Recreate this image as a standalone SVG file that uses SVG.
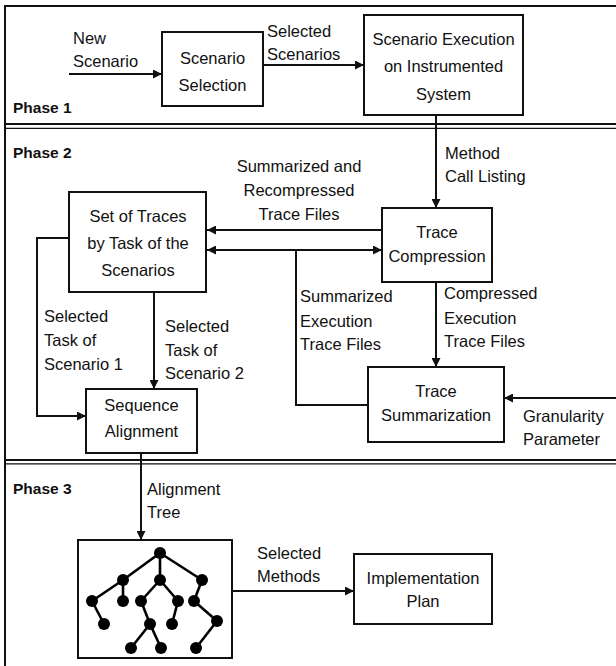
<svg xmlns="http://www.w3.org/2000/svg" width="616" height="666" viewBox="0 0 616 666">
<defs>
<style>
.t{font-family:"Liberation Sans",Arial,sans-serif;font-size:16.5px;fill:#111}
.c{text-anchor:middle}
.ph{font-family:"Liberation Sans",Arial,sans-serif;font-size:15.5px;font-weight:bold;fill:#111}
.box{fill:#fff;stroke:#111;stroke-width:2}
.ln{fill:none;stroke:#111;stroke-width:2}
.frame{fill:none;stroke:#111}
.tree line{stroke:#000;stroke-width:2.6}
.tree circle{fill:#000}
</style>
<marker id="ah" viewBox="0 0 10 10" refX="10" refY="5" markerWidth="10" markerHeight="9" markerUnits="userSpaceOnUse" orient="auto-start-reverse">
<path d="M0,0 L10,5 L0,10 z" fill="#111"/>
</marker>
</defs>
<rect width="616" height="666" fill="#fff"/>
<g id="frame">
<line class="frame" x1="5" y1="6" x2="616" y2="6" stroke-width="2"/>
<line class="frame" x1="5" y1="5" x2="5" y2="666" stroke-width="2"/>
<line class="frame" x1="5" y1="124" x2="616" y2="124" stroke-width="2.2"/>
<line class="frame" x1="5" y1="128.3" x2="616" y2="128.3" stroke-width="1.3"/>
<line class="frame" x1="5" y1="460" x2="616" y2="460" stroke-width="2.2"/>
<line class="frame" x1="5" y1="463.8" x2="616" y2="463.8" stroke-width="1.3"/>
<text class="ph" x="13" y="113">Phase 1</text>
<text class="ph" x="13" y="158">Phase 2</text>
<text class="ph" x="13" y="494">Phase 3</text>
</g>
<g id="connectors">
<line class="ln" x1="69" y1="74" x2="162" y2="74" marker-end="url(#ah)"/>
<line class="ln" x1="263" y1="65" x2="364" y2="65" marker-end="url(#ah)"/>
<line class="ln" x1="436" y1="115" x2="436" y2="208" marker-end="url(#ah)"/>
<line class="ln" x1="382" y1="230" x2="207" y2="230" marker-end="url(#ah)"/>
<line class="ln" x1="207" y1="250" x2="382" y2="250" marker-start="url(#ah)" marker-end="url(#ah)"/>
<polyline class="ln" points="296,250 296,405 368,405"/>
<line class="ln" x1="436" y1="282" x2="436" y2="367" marker-end="url(#ah)"/>
<line class="ln" x1="616" y1="398" x2="504" y2="398" marker-end="url(#ah)"/>
<polyline class="ln" points="69,238 37,238 37,416 86,416" marker-end="url(#ah)"/>
<line class="ln" x1="154" y1="292" x2="154" y2="389" marker-end="url(#ah)"/>
<line class="ln" x1="141" y1="453" x2="141" y2="540" marker-end="url(#ah)"/>
<line class="ln" x1="232" y1="591" x2="354" y2="591" marker-end="url(#ah)"/>
<text class="t" x="73" y="44">New</text>
<text class="t" x="73" y="67">Scenario</text>
<text class="t" x="267" y="37">Selected</text>
<text class="t" x="267" y="60">Scenarios</text>
<text class="t" x="445" y="159">Method</text>
<text class="t" x="445" y="182">Call Listing</text>
<text class="t c" x="299" y="172">Summarized and</text>
<text class="t c" x="299" y="196">Recompressed</text>
<text class="t c" x="299" y="220">Trace Files</text>
<text class="t" x="300" y="302">Summarized</text>
<text class="t" x="300" y="327">Execution</text>
<text class="t" x="300" y="350">Trace Files</text>
<text class="t" x="444" y="299">Compressed</text>
<text class="t" x="444" y="324">Execution</text>
<text class="t" x="444" y="347">Trace Files</text>
<text class="t" x="523" y="422">Granularity</text>
<text class="t" x="523" y="445">Parameter</text>
<text class="t" x="44" y="322">Selected</text>
<text class="t" x="44" y="346">Task of</text>
<text class="t" x="44" y="370">Scenario 1</text>
<text class="t" x="165" y="332">Selected</text>
<text class="t" x="165" y="356">Task of</text>
<text class="t" x="165" y="379">Scenario 2</text>
<text class="t" x="147" y="495">Alignment</text>
<text class="t" x="147" y="518">Tree</text>
<text class="t" x="257" y="559">Selected</text>
<text class="t" x="257" y="582">Methods</text>
</g>
<g id="scenario-selection">
<rect class="box" x="162" y="32" width="101" height="74"/>
<text class="t c" x="212.5" y="64">Scenario</text>
<text class="t c" x="212.5" y="91">Selection</text>
</g>
<g id="scenario-execution">
<rect class="box" x="364" y="15" width="159" height="100"/>
<text class="t c" x="443.5" y="45">Scenario Execution</text>
<text class="t c" x="443.5" y="72">on Instrumented</text>
<text class="t c" x="443.5" y="100">System</text>
</g>
<g id="set-of-traces">
<rect class="box" x="69" y="192" width="137" height="100"/>
<text class="t c" x="138" y="222">Set of Traces</text>
<text class="t c" x="138" y="249">by Task of the</text>
<text class="t c" x="138" y="276">Scenarios</text>
</g>
<g id="trace-compression">
<rect class="box" x="382" y="208" width="110" height="74"/>
<text class="t c" x="437" y="238">Trace</text>
<text class="t c" x="437" y="262">Compression</text>
</g>
<g id="trace-summarization">
<rect class="box" x="368" y="367" width="136" height="75"/>
<text class="t c" x="436" y="397">Trace</text>
<text class="t c" x="436" y="421">Summarization</text>
</g>
<g id="sequence-alignment">
<rect class="box" x="86" y="389" width="111" height="64"/>
<text class="t c" x="141.5" y="411">Sequence</text>
<text class="t c" x="141.5" y="437">Alignment</text>
</g>
<g id="alignment-tree">
<rect class="box" x="78" y="540" width="154" height="118"/>
<g class="tree">
<line x1="160" y1="553" x2="123" y2="580"/>
<line x1="160" y1="553" x2="160" y2="580"/>
<line x1="160" y1="553" x2="202" y2="580"/>
<line x1="123" y1="580" x2="92" y2="601"/>
<line x1="123" y1="580" x2="123" y2="601"/>
<line x1="160" y1="580" x2="141" y2="601"/>
<line x1="160" y1="580" x2="178" y2="601"/>
<line x1="202" y1="580" x2="194" y2="601"/>
<line x1="92" y1="601" x2="104" y2="624"/>
<line x1="141" y1="601" x2="150" y2="624"/>
<line x1="178" y1="601" x2="172" y2="624"/>
<line x1="194" y1="601" x2="217" y2="621"/>
<line x1="150" y1="624" x2="131" y2="648"/>
<line x1="150" y1="624" x2="161" y2="648"/>
<line x1="217" y1="621" x2="196" y2="648"/>
<circle cx="160" cy="553" r="6"/>
<circle cx="123" cy="580" r="6"/>
<circle cx="160" cy="580" r="6"/>
<circle cx="202" cy="580" r="6"/>
<circle cx="92" cy="601" r="6"/>
<circle cx="123" cy="601" r="6"/>
<circle cx="141" cy="601" r="6"/>
<circle cx="178" cy="601" r="6"/>
<circle cx="194" cy="601" r="6"/>
<circle cx="104" cy="624" r="6"/>
<circle cx="150" cy="624" r="6"/>
<circle cx="172" cy="624" r="6"/>
<circle cx="217" cy="621" r="6"/>
<circle cx="131" cy="648" r="6"/>
<circle cx="161" cy="648" r="6"/>
<circle cx="196" cy="648" r="6"/>
</g>
</g>
<g id="implementation-plan">
<rect class="box" x="354" y="554" width="138" height="70"/>
<text class="t c" x="423" y="584">Implementation</text>
<text class="t c" x="423" y="607">Plan</text>
</g>
</svg>
